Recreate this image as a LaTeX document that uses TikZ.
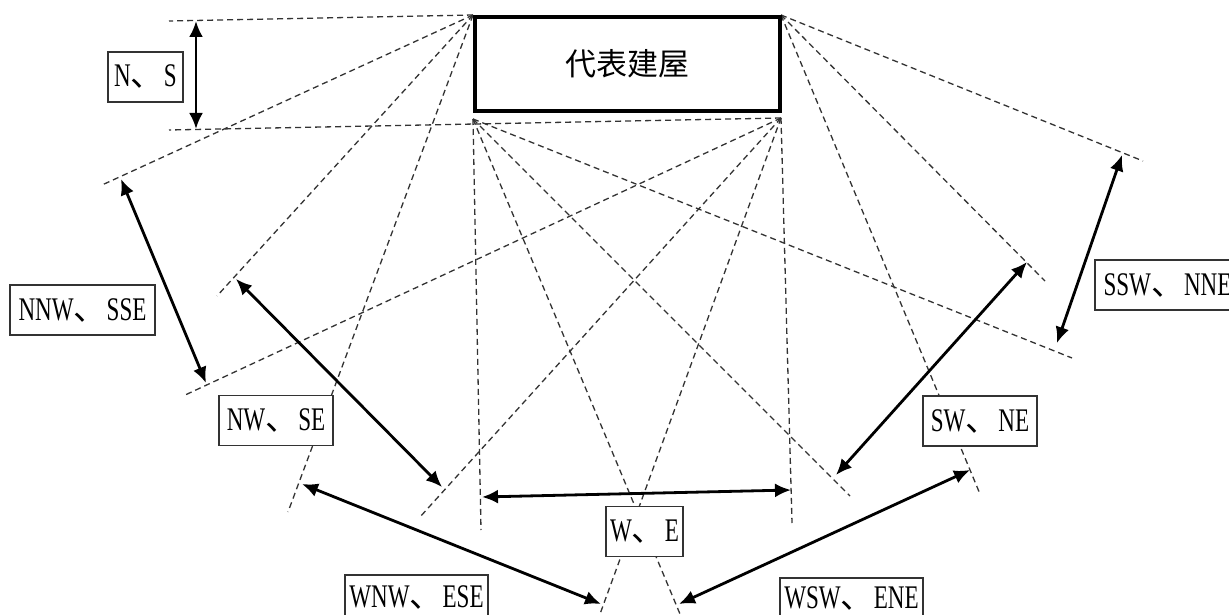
\documentclass[tikz,border=0pt]{standalone}
\usepackage{fontspec}
\setmainfont{Liberation Serif}[FakeStretch=0.7]
\newfontfamily\cjk{Noto Sans CJK SC}
\usetikzlibrary{arrows.meta}
\newcommand\pair[2]{#1{\cjk 、}#2}

\begin{document}
\begin{tikzpicture}[
  x=1pt, y=-1pt,
  font=\fontsize{33}{33}\selectfont,
  sight/.style={draw=black!80, line width=1.3pt, dash pattern=on 6pt off 4pt},
  arr/.style={{Latex[length=16pt,width=14pt]}-{Latex[length=16pt,width=14pt]},
              line width=2.8pt},
  lbl/.style={draw=black!80, line width=1.5pt, fill=white, minimum height=50pt,
              inner sep=3pt},
]
\path[use as bounding box, fill=white] (0,0) rectangle (1229,615);
\coordinate (tl) at (473,15);
\coordinate (tr) at (781,15);
\coordinate (bl) at (473,119);
\coordinate (br) at (781,118);
\coordinate (ns1) at (169,21);   \coordinate (ns2) at (169,130);
\coordinate (nnw1) at (102,185); \coordinate (nnw2) at (183,396);
\coordinate (nw1) at (217,296);  \coordinate (nw2) at (420,517);
\coordinate (wnw1) at (288,512); \coordinate (wnw2) at (600,614);
\coordinate (w1) at (481,530);   \coordinate (w2) at (792,523);
\coordinate (wsw1) at (980,494); \coordinate (wsw2) at (680,614);
\coordinate (sw1) at (1045,281); \coordinate (sw2) at (850,496);
\coordinate (ssw1) at (1143,161);\coordinate (ssw2) at (1072,358);
\draw[sight] (tl) -- (ns1);
\draw[sight] (br) -- (ns2);
\draw[sight] (tl) -- (nnw1);
\draw[sight] (br) -- (nnw2);
\draw[sight] (tl) -- (nw1);
\draw[sight] (br) -- (nw2);
\draw[sight] (tl) -- (wnw1);
\draw[sight] (br) -- (wnw2);
\draw[sight] (bl) -- (w1);
\draw[sight] (br) -- (w2);
\draw[sight] (tr) -- (wsw1);
\draw[sight] (bl) -- (wsw2);
\draw[sight] (tr) -- (sw1);
\draw[sight] (bl) -- (sw2);
\draw[sight] (tr) -- (ssw1);
\draw[sight] (bl) -- (ssw2);
\coordinate (nsA) at (196,21);    \coordinate (nsB) at (196,129);
\coordinate (nnwA) at (121,179);  \coordinate (nnwB) at (206,383);
\coordinate (nwA) at (236,279);   \coordinate (nwB) at (442,487);
\coordinate (wnwA) at (302,484);  \coordinate (wnwB) at (601,604);
\coordinate (weA) at (482,497);   \coordinate (weB) at (791,490);
\coordinate (wswA) at (970,470);  \coordinate (wswB) at (679,604);
\coordinate (swA) at (1027,262);  \coordinate (swB) at (836,475);
\coordinate (sswA) at (1122,155); \coordinate (sswB) at (1057,343);
\draw[arr] (nsA) -- (nsB);
\draw[arr] (nnwA) -- (nnwB);
\draw[arr] (nwA) -- (nwB);
\draw[arr] (wnwA) -- (wnwB);
\draw[arr] (weA) -- (weB);
\draw[arr] (wswA) -- (wswB);
\draw[arr] (swA) -- (swB);
\draw[arr] (sswA) -- (sswB);
\node[lbl, minimum width=75pt] (ns) at (145.5,77) {\pair{N}{S}};
\node[lbl, minimum width=145pt] (nnw) at (82.5,310) {\pair{NNW}{SSE}};
\node[lbl, minimum width=114pt] (nw) at (276,420.5) {\pair{NW}{SE}};
\node[lbl, minimum width=77pt] (we) at (644.5,531.5) {\pair{W}{E}};
\node[lbl, minimum width=143pt, minimum height=44pt] (wnw) at (416.5,597) {\pair{WNW}{ESE}};
\node[lbl, minimum width=143pt, minimum height=40pt] (wsw) at (851.5,598) {\pair{WSW}{ENE}};
\node[lbl, minimum width=114pt] (sw) at (980,421) {\pair{SW}{NE}};
\node[lbl, minimum width=145pt] (ssw) at (1167.5,285) {\pair{SSW}{NNE}};
\node[draw, line width=4pt, fill=white, minimum width=305pt, minimum height=94pt,
      inner sep=0pt, font=\fontsize{31}{31}\selectfont\cjk] (house) at (627.5,64) {代表建屋};
\end{tikzpicture}
\end{document}
